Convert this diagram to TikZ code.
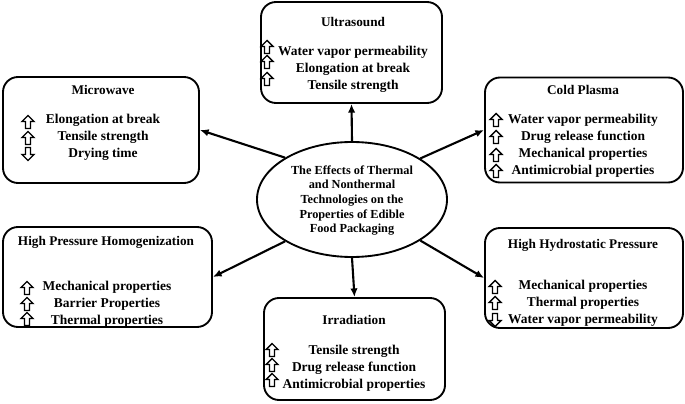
\documentclass[tikz,border=0pt]{standalone}
\usepackage{fontspec}
\setmainfont{Liberation Serif}
\usetikzlibrary{arrows.meta,shapes.geometric}

\tikzset{
	box/.style={draw, line width=1.6pt, rounded corners=0.45cm, inner sep=0pt},
	ttl/.style={font=\bfseries\fontsize{11.3}{13}\selectfont},
	txt/.style={font=\bfseries\fontsize{11.5}{14.5}\selectfont, align=center},
	link/.style={line width=1.8pt, -{Latex[length=2.6mm,width=2.2mm]}},
	uparr/.pic={\draw[line width=1.2pt] (0,-6.5)--(6,-0.5)--(2.5,-0.5)--(2.5,6.5)--(-2.5,6.5)--(-2.5,-0.5)--(-6,-0.5)--cycle;},
	downarr/.pic={\draw[line width=1.2pt] (0,6.5)--(6,0.5)--(2.5,0.5)--(2.5,-6.5)--(-2.5,-6.5)--(-2.5,0.5)--(-6,0.5)--cycle;}
}

\begin{document}
\begin{tikzpicture}[x=0.03cm,y=-0.03cm]

		\useasboundingbox (0,0) rectangle (685,404);
		
		\node [ellipse, draw, line width=1.6pt, minimum width=5.7cm, minimum height=3.45cm, inner sep=0pt] (effects) at (352,199.5) {};
		\node [font=\bfseries\fontsize{10.5}{12.5}\selectfont, align=center] (effectstxt) at (352,200.5)
			{The Effects of Thermal\\and Nonthermal\\Technologies on the\\Properties of Edible\\Food Packaging};
		
		% Ultrasound
		\node [box, minimum width=5.43cm, minimum height=3.03cm] (us) at (351.5,52.5) {};
		\node [ttl] (ustitle) at (353,22) {Ultrasound};
		\node [txt] (ustxt) at (353,69) {Water vapor permeability\\Elongation at break\\Tensile strength};
		\pic at (267,47) {uparr};
		\pic at (267,62) {uparr};
		\pic at (267,79) {uparr};
		
		% Microwave
		\node [box, minimum width=5.88cm, minimum height=3.18cm] (mw) at (101,130) {};
		\node [ttl] (mwtitle) at (103,90) {Microwave};
		\node [txt] (mwtxt) at (103,137) {Elongation at break\\Tensile strength\\Drying time};
		\pic at (28,122) {uparr};
		\pic at (28,138) {uparr};
		\pic at (28,154) {downarr};
		
		% Cold Plasma
		\node [box, minimum width=5.94cm, minimum height=3.15cm] (cp) at (584,130) {};
		\node [ttl] (cptitle) at (583,90) {Cold Plasma};
		\node [txt] (cptxt) at (583,145.5) {Water vapor permeability\\Drug release function\\Mechanical properties\\Antimicrobial properties};
		\pic at (496,120) {uparr};
		\pic at (496,137) {uparr};
		\pic at (496,155) {uparr};
		\pic at (496,171) {uparr};
		
		% High Pressure Homogenization
		\node [box, minimum width=6.27cm, minimum height=3.0cm] (hph) at (107.5,277) {};
		\node [ttl] (hphtitle) at (106,242) {High Pressure Homogenization};
		\node [txt] (hphtxt) at (107,304) {Mechanical properties\\Barrier Properties\\Thermal properties};
		\pic at (27,288) {uparr};
		\pic at (27,304) {uparr};
		\pic at (27,319) {uparr};
		
		% High Hydrostatic Pressure
		\node [box, minimum width=5.94cm, minimum height=3.0cm] (hhp) at (584,278) {};
		\node [ttl] (hhptitle) at (583,245) {High Hydrostatic Pressure};
		\node [txt] (hhptxt) at (583,303) {Mechanical properties\\Thermal properties\\Water vapor permeability};
		\pic at (495,287) {uparr};
		\pic at (495,303) {uparr};
		\pic at (495,320) {downarr};
		
		% Irradiation
		\node [box, minimum width=5.43cm, minimum height=3.06cm] (irr) at (354.5,349) {};
		\node [ttl] (irrtitle) at (354,320) {Irradiation};
		\node [txt] (irrtxt) at (354,368) {Tensile strength\\Drug release function\\Antimicrobial properties};
		\pic at (272,350) {uparr};
		\pic at (272,365) {uparr};
		\pic at (272,380) {uparr};
		
		\draw [link] (effects.north) -- (us.south);
		\draw [link] (effects.south) -- (irr.north);
		\draw [link] (effects.148) -- (mw.east);
		\draw [link] (effects.31) -- (cp.west);
		\draw [link] (effects.212) -- (hph.east);
		\draw [link] (effects.329) -- (hhp.west);
		
\end{tikzpicture}
\end{document}
